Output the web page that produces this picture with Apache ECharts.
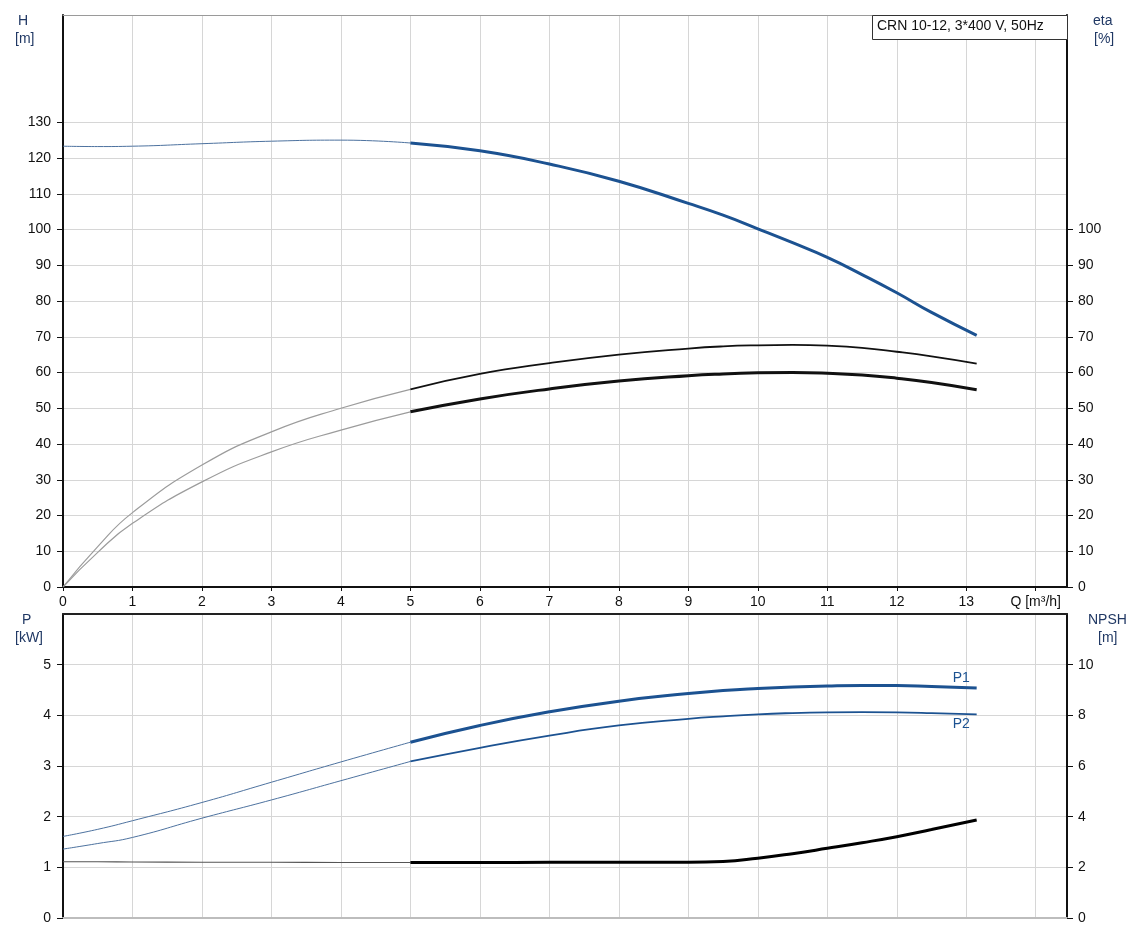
<!DOCTYPE html>
<html>
<head>
<meta charset="utf-8">
<script src="https://cdn.jsdelivr.net/npm/echarts@6/dist/echarts.min.js"></script>
<style>
html,body{margin:0;padding:0;background:#fff;}
#c{width:1136px;height:945px;}
</style>
</head>
<body>
<div id="c"></div>
<script>
// ---- data ----
const qValues      = [0, 0.5, 1, 2, 3, 4, 5, 6, 7, 8, 9, 9.5, 10, 10.5, 11, 11.5, 12, 12.5, 13.15];
const headValues   = [123.3, 123.2, 123.3, 124.0, 124.7, 125.0, 124.2, 122.0, 118.3, 113.5, 107.3, 104.0, 100.2, 96.3, 92.2, 87.4, 82.3, 76.8, 70.4];
const etaPump      = [0, 11.3, 20.8, 34.1, 43.4, 50.0, 55.3, 59.6, 62.6, 65.0, 66.7, 67.3, 67.6, 67.7, 67.5, 66.9, 65.8, 64.5, 62.5];
const etaTotal     = [0, 9.7, 17.8, 29.4, 37.8, 43.9, 49.0, 52.6, 55.4, 57.6, 59.1, 59.6, 59.9, 60.0, 59.8, 59.3, 58.4, 57.2, 55.2];
const p1Values     = [1.61, 1.75, 1.92, 2.28, 2.68, 3.08, 3.47, 3.80, 4.07, 4.28, 4.43, 4.49, 4.53, 4.56, 4.58, 4.59, 4.59, 4.57, 4.54];
const p2Values     = [1.36, 1.47, 1.59, 1.97, 2.33, 2.71, 3.09, 3.36, 3.60, 3.80, 3.93, 3.98, 4.02, 4.045, 4.06, 4.065, 4.06, 4.045, 4.02];
const npshValues   = [2.22, 2.22, 2.21, 2.20, 2.20, 2.19, 2.19, 2.19, 2.20, 2.20, 2.20, 2.23, 2.36, 2.54, 2.75, 2.97, 3.21, 3.49, 3.87];
const hTicks       = [0, 10, 20, 30, 40, 50, 60, 70, 80, 90, 100, 110, 120, 130];
const etaTicks     = [0, 10, 20, 30, 40, 50, 60, 70, 80, 90, 100];
const pTicks       = [0, 1, 2, 3, 4, 5];
const npshTicks    = [0, 2, 4, 6, 8, 10];
const qSplit = 5;
const legendText = 'CRN 10-12, 3*400 V, 50Hz';

function part(vals, thick) {
  const out = [];
  qValues.forEach((q, i) => {
    if (thick ? q >= qSplit : q <= qSplit) out.push([q, vals[i]]);
  });
  return out;
}

const FONT = '"Liberation Sans", Arial, sans-serif';
const BLUE = '#1c5291';
const THINBLUE = '#4d729f';
const GRID = '#d6d6d6';
const NAMEC = '#203864';

const lbl = {fontFamily: FONT, fontSize: 14, color: '#111'};

function line(name, data, xi, yi, color, width, extra) {
  return Object.assign({
    name, type: 'line', data, xAxisIndex: xi, yAxisIndex: yi,
    showSymbol: false, symbol: 'none', smooth: 0.5,
    lineStyle: {color, width}, itemStyle: {color}, silent: true, z: width > 2 ? 4 : 3
  }, extra || {});
}

const chart = echarts.init(document.getElementById('c'), null, {renderer: 'canvas'});

const option = {
  animation: false,
  backgroundColor: '#fff',
  grid: [
    {left: 63, right: 69, top: 15, height: 572, containLabel: false},
    {left: 63, right: 69, top: 614, height: 304, containLabel: false}
  ],
  xAxis: [
    {type: 'value', gridIndex: 0, min: 0, max: 14.45, interval: 1, position: 'bottom',
     axisLine: {show: true, onZero: false, lineStyle: {color: '#111', width: 2}},
     axisTick: {show: true, length: 4, lineStyle: {color: '#111'}},
     axisLabel: Object.assign({margin: 8, showMaxLabel: false,
       formatter: v => (v === 14 ? 'Q [m³/h]' : (Number.isInteger(v) && v <= 13 ? String(v) : ''))}, lbl),
     splitLine: {show: true, lineStyle: {color: GRID, width: 1}}},
    {type: 'value', gridIndex: 0, min: 0, max: 14.45, interval: 1, position: 'top',
     axisLine: {show: true, onZero: false, lineStyle: {color: '#9a9a9a', width: 1}},
     axisTick: {show: false}, axisLabel: {show: false}, splitLine: {show: false}},
    {type: 'value', gridIndex: 1, min: 0, max: 14.45, interval: 1, position: 'bottom',
     axisLine: {show: true, onZero: false, lineStyle: {color: '#bdbdbd', width: 2}},
     axisTick: {show: false}, axisLabel: {show: false},
     splitLine: {show: true, lineStyle: {color: GRID, width: 1}}},
    {type: 'value', gridIndex: 1, min: 0, max: 14.45, interval: 1, position: 'top',
     axisLine: {show: true, onZero: false, lineStyle: {color: '#222', width: 2}},
     axisTick: {show: false}, axisLabel: {show: false}, splitLine: {show: false}}
  ],
  yAxis: [
    {type: 'value', gridIndex: 0, min: 0, max: 160, interval: 10, position: 'left',
     axisLine: {show: true, onZero: false, lineStyle: {color: '#111', width: 2}},
     axisTick: {show: true, length: 6, customValues: hTicks, lineStyle: {color: '#111'}},
     axisLabel: Object.assign({margin: 12, customValues: hTicks,
       formatter: v => (v <= 130 ? String(v) : '')}, lbl),
     splitLine: {show: true, lineStyle: {color: GRID, width: 1}}},
    {type: 'value', gridIndex: 0, min: 0, max: 160, interval: 10, position: 'right',
     axisLine: {show: true, onZero: false, lineStyle: {color: '#111', width: 2}},
     axisTick: {show: true, length: 6, customValues: etaTicks, lineStyle: {color: '#111'}},
     axisLabel: Object.assign({margin: 11, customValues: etaTicks,
       formatter: v => (v <= 100 ? String(v) : '')}, lbl),
     splitLine: {show: false}},
    {type: 'value', gridIndex: 1, min: 0, max: 6, interval: 1, position: 'left',
     axisLine: {show: true, onZero: false, lineStyle: {color: '#111', width: 2}},
     axisTick: {show: true, length: 6, customValues: pTicks, lineStyle: {color: '#111'}},
     axisLabel: Object.assign({margin: 12, customValues: pTicks,
       formatter: v => (v <= 5 ? String(v) : '')}, lbl),
     splitLine: {show: true, lineStyle: {color: GRID, width: 1}}},
    {type: 'value', gridIndex: 1, min: 0, max: 12, interval: 2, position: 'right',
     axisLine: {show: true, onZero: false, lineStyle: {color: '#111', width: 2}},
     axisTick: {show: true, length: 6, customValues: npshTicks, lineStyle: {color: '#111'}},
     axisLabel: Object.assign({margin: 11, customValues: npshTicks,
       formatter: v => (v <= 10 ? String(v) : '')}, lbl),
     splitLine: {show: false}}
  ],
  series: [
    line('H', part(headValues, false), 0, 0, THINBLUE, 1),
    line('H', part(headValues, true), 0, 0, BLUE, 3),
    line('eta pump', part(etaPump, false), 0, 1, '#9c9c9c', 1.2),
    line('eta pump', part(etaPump, true), 0, 1, '#111', 1.8),
    line('eta total', part(etaTotal, false), 0, 1, '#9c9c9c', 1.2),
    line('eta total', part(etaTotal, true), 0, 1, '#111', 3),
    line('P1', part(p1Values, false), 2, 2, THINBLUE, 1),
    line('P1', part(p1Values, true), 2, 2, BLUE, 3, {
      endLabel: {show: true, formatter: 'P1', distance: 8, offset: [-32, -10],
        fontFamily: FONT, fontSize: 14, color: BLUE}}),
    line('P2', part(p2Values, false), 2, 2, THINBLUE, 1),
    line('P2', part(p2Values, true), 2, 2, BLUE, 1.8, {
      endLabel: {show: true, formatter: 'P2', distance: 8, offset: [-32, 10],
        fontFamily: FONT, fontSize: 14, color: BLUE}}),
    line('NPSH', part(npshValues, false), 2, 3, '#555', 1.2),
    line('NPSH', part(npshValues, true), 2, 3, '#000', 3)
  ],
  graphic: [
    {type: 'text', left: 18, top: 14, style: {text: 'H', font: '14px ' + FONT, fill: NAMEC}},
    {type: 'text', left: 15, top: 32, style: {text: '[m]', font: '14px ' + FONT, fill: NAMEC}},
    {type: 'text', left: 1093, top: 14, style: {text: 'eta', font: '14px ' + FONT, fill: NAMEC}},
    {type: 'text', left: 1094, top: 32, style: {text: '[%]', font: '14px ' + FONT, fill: NAMEC}},
    {type: 'text', left: 22, top: 613, style: {text: 'P', font: '14px ' + FONT, fill: NAMEC}},
    {type: 'text', left: 15, top: 631, style: {text: '[kW]', font: '14px ' + FONT, fill: NAMEC}},
    {type: 'text', left: 1088, top: 613, style: {text: 'NPSH', font: '14px ' + FONT, fill: NAMEC}},
    {type: 'text', left: 1098, top: 631, style: {text: '[m]', font: '14px ' + FONT, fill: NAMEC}},
    {type: 'rect', left: 872, top: 15, z: 10,
     shape: {width: 195, height: 24}, style: {fill: '#fff', stroke: '#333', lineWidth: 1}},
    {type: 'text', left: 877, top: 19, z: 11,
     style: {text: legendText, font: '14px ' + FONT, fill: '#111'}}
  ]
};
chart.setOption(option);
</script>
</body>
</html>
